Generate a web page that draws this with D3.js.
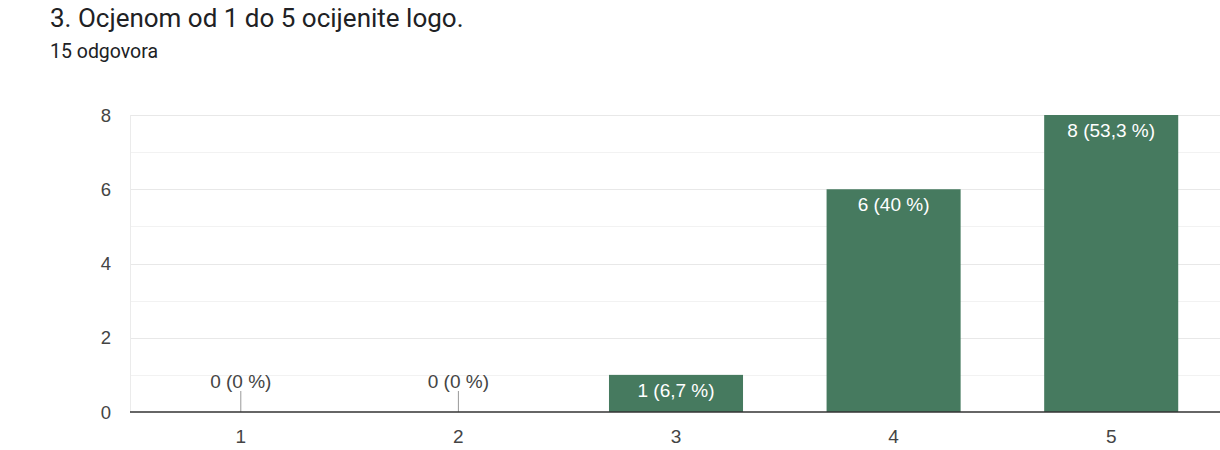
<!DOCTYPE html>
<html>
<head>
<meta charset="utf-8">
<script src="https://cdn.jsdelivr.net/npm/d3@7"></script>
<style>
  body { margin: 0; background: #fff; }
  svg text { font-family: Arial, "Liberation Sans", sans-serif; }
  svg text.head { font-family: Roboto, Arial, sans-serif; }
</style>
</head>
<body>
<script>
var width = 1220,
    height = 450;

var title = "3. Ocjenom od 1 do 5 ocijenite logo.";
var subtitle = "15 odgovora";
var categories = ["1", "2", "3", "4", "5"];
var counts = [0, 0, 1, 6, 8];
var labels = ["0 (0 %)", "0 (0 %)", "1 (6,7 %)", "6 (40 %)", "8 (53,3 %)"];
var yTicks = [0, 2, 4, 6, 8];
var yMinor = [1, 3, 5, 7];

var barColor = "#467a5f";

var svg = d3.select("body").append("svg")
    .attr("width", width)
    .attr("height", height);

svg.append("text")
    .attr("class", "head")
    .attr("x", 50).attr("y", 27)
    .attr("font-size", 26)
    .attr("fill", "#202124")
    .text(title);

svg.append("text")
    .attr("class", "head")
    .attr("x", 50).attr("y", 58)
    .attr("font-size", 19.5)
    .attr("fill", "#202124")
    .text(subtitle);

var plotLeft = 130, plotRight = 1220, plotTop = 115, plotBottom = 412;

var x = d3.scaleBand().domain(categories).range([132, 1220])
    .paddingInner(0.384).paddingOuter(0.192);
var y = d3.scaleLinear().domain([0, 8]).range([plotBottom, plotTop]);

// gridlines
svg.selectAll("line.minor").data(yMinor)
  .enter().append("line")
    .attr("class", "minor")
    .attr("x1", plotLeft).attr("x2", plotRight)
    .attr("y1", function (d) { return Math.round(y(d)) + 0.5; })
    .attr("y2", function (d) { return Math.round(y(d)) + 0.5; })
    .attr("stroke", "#f2f2f2");

svg.selectAll("line.major").data(yTicks.slice(1))
  .enter().append("line")
    .attr("class", "major")
    .attr("x1", plotLeft).attr("x2", plotRight)
    .attr("y1", function (d) { return Math.round(y(d)) + 0.5; })
    .attr("y2", function (d) { return Math.round(y(d)) + 0.5; })
    .attr("stroke", "#e8e8e8");

svg.append("line")
    .attr("x1", plotLeft + 0.5).attr("x2", plotLeft + 0.5)
    .attr("y1", plotTop).attr("y2", plotBottom)
    .attr("stroke", "#ebebeb");

// y labels
svg.selectAll("text.ylab").data(yTicks)
  .enter().append("text")
    .attr("class", "ylab")
    .attr("x", 111)
    .attr("y", function (d) { return y(d); })
    .attr("dy", "0.36em")
    .attr("text-anchor", "end")
    .attr("font-size", 18.5)
    .attr("fill", "#444")
    .text(function (d) { return d; });

// bars
svg.selectAll("rect.bar").data(counts)
  .enter().append("rect")
    .attr("class", "bar")
    .attr("x", function (d, i) { return x(categories[i]); })
    .attr("y", function (d) { return y(d); })
    .attr("width", x.bandwidth())
    .attr("height", function (d) { return plotBottom - y(d); })
    .attr("fill", barColor);

// zero leaders
svg.selectAll("line.leader").data(counts.map(function (d, i) { return {v: d, c: categories[i]}; })
      .filter(function (d) { return d.v === 0; }))
  .enter().append("line")
    .attr("class", "leader")
    .attr("x1", function (d) { return x(d.c) + x.bandwidth() / 2; })
    .attr("x2", function (d) { return x(d.c) + x.bandwidth() / 2; })
    .attr("y1", plotBottom).attr("y2", plotBottom - 21)
    .attr("stroke", "#999");

// value labels
svg.selectAll("text.val").data(counts)
  .enter().append("text")
    .attr("class", "val")
    .attr("x", function (d, i) { return x(categories[i]) + x.bandwidth() / 2; })
    .attr("y", function (d) { return d === 0 ? plotBottom - 24 : y(d) + 22; })
    .attr("text-anchor", "middle")
    .attr("font-size", 19)
    .attr("fill", function (d) { return d === 0 ? "#444" : "#fff"; })
    .text(function (d, i) { return labels[i]; });

// baseline
svg.append("line")
    .attr("x1", plotLeft).attr("x2", plotRight)
    .attr("y1", plotBottom).attr("y2", plotBottom)
    .attr("stroke", "#333").attr("stroke-width", 1.5);

// x labels
svg.selectAll("text.xlab").data(categories)
  .enter().append("text")
    .attr("class", "xlab")
    .attr("x", function (d) { return x(d) + x.bandwidth() / 2; })
    .attr("y", 443)
    .attr("text-anchor", "middle")
    .attr("font-size", 19)
    .attr("fill", "#444")
    .text(function (d) { return d; });
</script>
</body>
</html>
